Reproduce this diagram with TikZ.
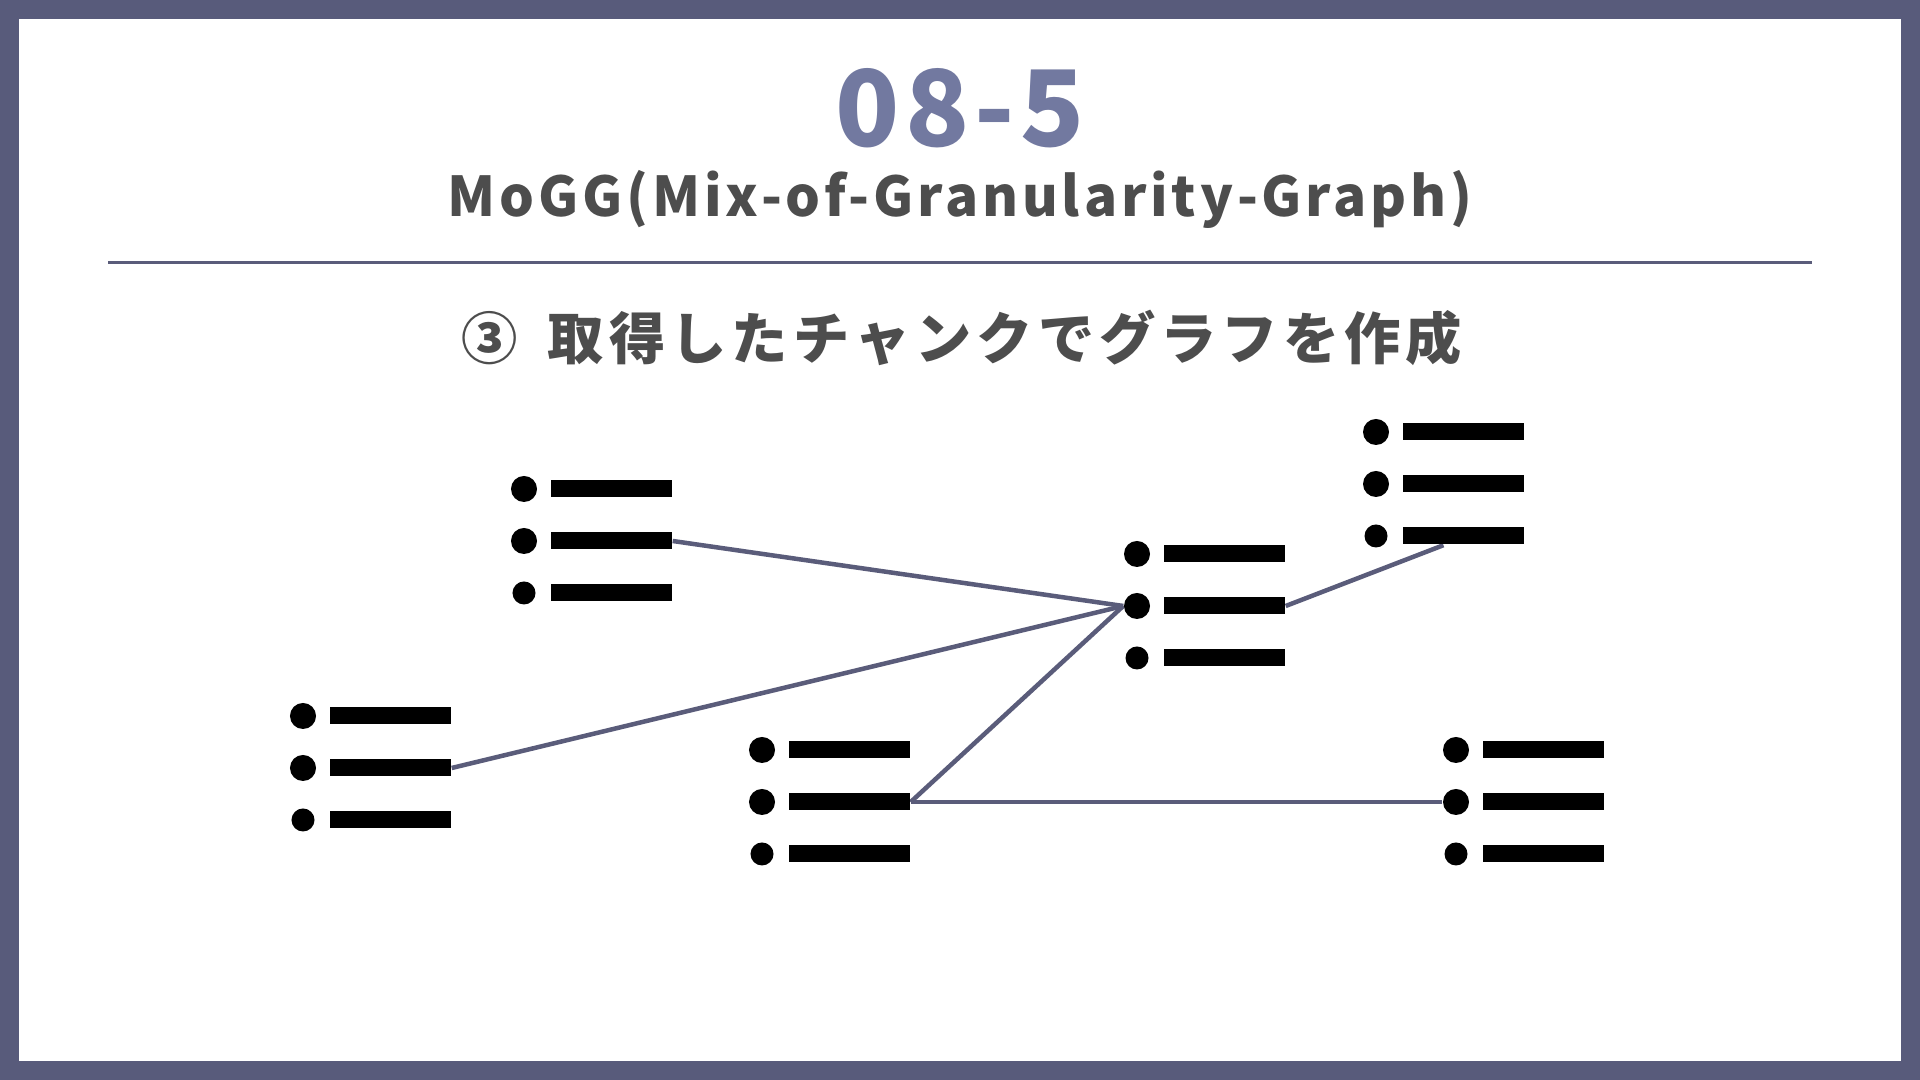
\documentclass[tikz,border=0pt]{standalone}
\usepackage{fontspec}
\newfontfamily\jpfont{Noto Sans CJK JP}
\usetikzlibrary{positioning,backgrounds}
\definecolor{frameslate}{RGB}{88,91,123}
\definecolor{titleslate}{RGB}{114,121,160}
\definecolor{textgray}{RGB}{77,77,77}
\definecolor{edgeslate}{RGB}{90,92,122}

% one chunk icon: name, x and y of the middle dot
\newcommand{\chunklist}[3]{%
  \node[dotbig]   (#1-d1) at (#2,#3-52) {};
  \node[dotbig]   (#1-d2) at (#2,#3)    {};
  \node[dotsmall] (#1-d3) at (#2,#3+52) {};
  \node[bar, right=0.125cm of #1-d1] (#1-b1) {};
  \node[bar, right=0.125cm of #1-d2] (#1-b2) {};
  \node[bar, right=0.14cm of #1-d3]  (#1-b3) {};
}

\begin{document}
\begin{tikzpicture}[
  x=0.01cm, y=-0.01cm,
  dotbig/.style={circle, fill=black, inner sep=0pt, minimum size=0.26cm},
  dotsmall/.style={circle, fill=black, inner sep=0pt, minimum size=0.23cm},
  bar/.style={rectangle, fill=black, inner sep=0pt,
              minimum width=1.21cm, minimum height=0.17cm},
  edge/.style={draw=edgeslate, line width=0.045cm},
  heading/.style={text=textgray, inner sep=0pt}
]
\useasboundingbox (0,0) rectangle (1920,1080);
\begin{pgfonlayer}{background}
  \fill[frameslate] (0,0) rectangle (1920,1080);
  \fill[white] (19,19) rectangle (1901,1061);
\end{pgfonlayer}

\node[text=titleslate, inner sep=0pt,
      font=\jpfont\bfseries\fontsize{30}{34}\selectfont\addfontfeature{LetterSpace=5}]
      (num) at (960,108) {08-5};
\node[heading, font=\jpfont\bfseries\fontsize{15.6}{19}\selectfont\addfontfeature{LetterSpace=7}]
      (name) at (960,199) {MoGG(Mix-of-Granularity-Graph)};
\draw[edgeslate, line width=0.03cm] (108,263) -- (1812,263);
\node[heading, font=\jpfont\bfseries\fontsize{16}{20}\selectfont\addfontfeature{LetterSpace=9}]
      (step) at (962,338) {③\hspace{0.12cm} 取得したチャンクでグラフを作成};

\chunklist{A}{524}{541}
\chunklist{B}{303}{768}
\chunklist{C}{762}{802}
\chunklist{D}{1137}{606}
\chunklist{E}{1376}{484}
\chunklist{F}{1456}{802}

\begin{pgfonlayer}{background}
  \draw[edge] (A-b2.east) -- (D-d2.west);
  \draw[edge] (B-b2.east) -- (D-d2.west);
  \draw[edge] (C-b2.east) -- (D-d2.west);
  \draw[edge] (D-b2.east) -- ([xshift=-0.2cm]E-b3.south);
  \draw[edge] (C-b2.east) -- (F-d2.west);
\end{pgfonlayer}
\end{tikzpicture}
\end{document}
